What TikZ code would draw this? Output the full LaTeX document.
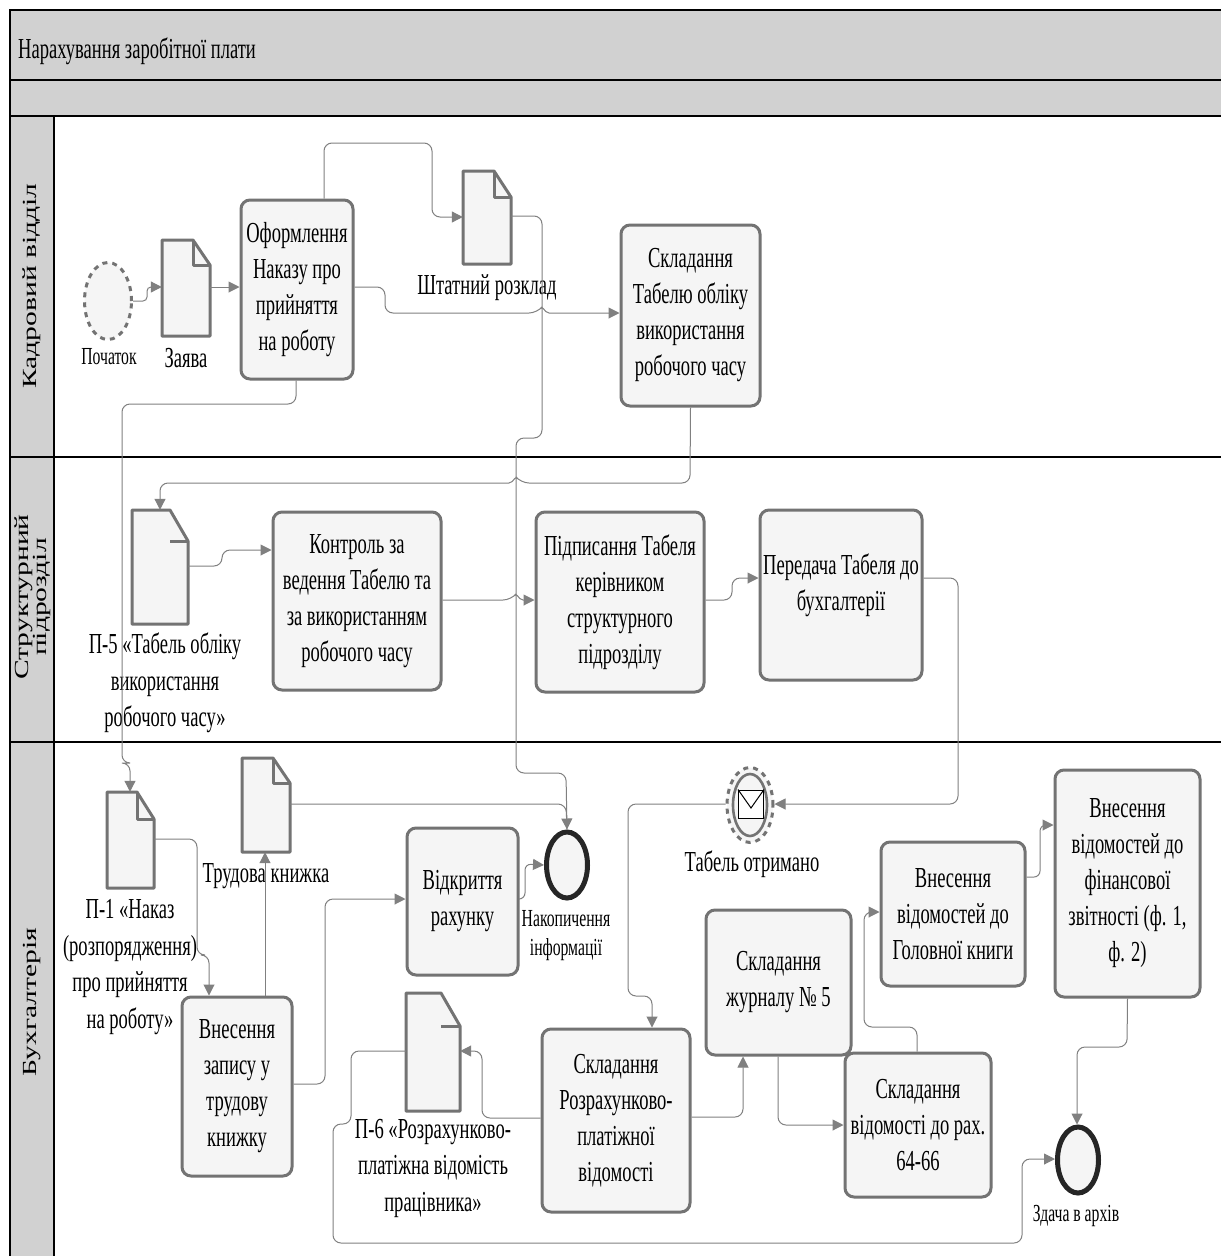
\documentclass[tikz,border=0pt]{standalone}
\usepackage{fontspec}
\setmainfont[FakeStretch=0.64]{Liberation Serif}
\newfontfamily\lanefont[FakeStretch=1.48]{Liberation Serif}
\usetikzlibrary{arrows.meta,shapes.geometric}
\definecolor{hdr}{gray}{0.82}
\definecolor{edge}{gray}{0.45}
\definecolor{conn}{gray}{0.5}
\definecolor{paper}{gray}{0.96}
\tikzset{
  x=1pt,y=-1pt,
  taskbox/.style={draw=edge,fill=paper,line width=3pt,rounded corners=9pt,inner sep=0pt,align=center,font=\fontsize{29}{36}\selectfont},
  docbody/.style={draw=edge,fill=paper,line width=3pt,line join=round},
  docfold/.style={draw=edge,line width=3pt,line join=round},
  docframe/.style={inner sep=0pt,draw=none},
  lab/.style={inner sep=0pt,align=center,font=\fontsize{29}{36.5}\selectfont},
  smalllab/.style={inner sep=0pt,align=center,font=\fontsize{24.5}{29}\selectfont},
  connector/.style={draw=conn,line width=1pt,rounded corners=8pt},
  arrowed/.style={connector,-{Triangle[length=11pt,width=11pt,fill=conn]}},
  ellipse shape/.style={shape=ellipse,inner sep=0pt},
  startev/.style={ellipse shape,draw=edge,fill=paper,line width=3pt,dash pattern=on 5pt off 5pt},
  endev/.style={ellipse shape,draw=black!85,fill=paper,line width=5pt},
  lanehdr/.style={draw=black,fill=hdr,line width=1.6pt},
  lanetxt/.style={inner sep=0pt,align=center,rotate=90,font=\lanefont\fontsize{20}{16}\selectfont},
}
\newcommand{\tasknode}[6]{\node[taskbox,minimum width={(#4-#2)*1pt},minimum height={(#5-#3)*1pt}] (#1) at ({(#2+#4)/2},{(#3+#5)/2}) {#6};}
\newcommand{\docshape}[7]{%
  \draw[docbody] (#2,#3) -- (#6,#3) -- (#4,#7) -- (#4,#5) -- (#2,#5) -- cycle;
  \node[docframe,minimum width={(#4-#2)*1pt},minimum height={(#5-#3)*1pt}] (#1) at ({(#2+#4)/2},{(#3+#5)/2}) {};}
\newcommand{\docnode}[7]{%
  \docshape{#1}{#2}{#3}{#4}{#5}{#6}{#7}
  \draw[docfold] (#6,#3) -- (#6,#7) -- (#4,#7);}
\newcommand{\docnodetick}[7]{%
  \docshape{#1}{#2}{#3}{#4}{#5}{#6}{#7}
  \draw[docfold] (#6,#7) -- (#4,#7);}
\begin{document}
\begin{tikzpicture}
\useasboundingbox (0,0) rectangle (1221,1256);
\fill[white] (0,0) rectangle (1221,1256);
% header bands
\draw[lanehdr] (10,10) rectangle (1223,80);
\draw[lanehdr] (10,80) rectangle (1223,116);
\node[anchor=west,inner sep=0pt,font=\fontsize{29}{32}\selectfont] (title) at (18,51) {Нарахування заробітної плати};
% lanes
\draw[lanehdr] (10,116) rectangle (54,457);
\draw[lanehdr] (10,457) rectangle (54,742);
\draw[lanehdr] (10,742) rectangle (54,1258);
\draw[black,line width=1.6pt] (54,457) -- (1223,457);
\draw[black,line width=1.6pt] (54,742) -- (1223,742);
\node[lanetxt] (laneA) at (32,286) {Кадровий відділ};
\node[lanetxt] (laneB) at (33,597) {Структурний\\підрозділ};
\node[lanetxt] (laneC) at (32,1002) {Бухгалтерія};
% first lane
\node[startev,minimum width=47pt,minimum height=77pt] (start) at (108,301) {};
\node[smalllab] (startL) at (109,357) {Початок};
\docnode{zayava}{162}{240}{210}{336}{193}{265}
\node[lab] (zayavaL) at (186,358) {Заява};
\tasknode{order}{241}{200}{353}{379}{Оформлення\\Наказу про\\прийняття\\на роботу}
\docnode{shtat}{463}{171}{511}{264}{494}{197}
\node[lab] (shtatL) at (487,288) {Штатний розклад};
\tasknode{tabel}{621}{225}{760}{406}{Складання\\Табелю обліку\\використання\\робочого часу}
% second lane
\docnodetick{pfive}{132}{510}{188}{624}{170}{541}
\node[lab] (pfiveL) at (165,683) {П-5 «Табель обліку\\використання\\робочого часу»};
\tasknode{control}{273}{512}{441}{690}{Контроль за\\ведення Табелю та\\за використанням\\робочого часу}
\tasknode{sign}{536}{512}{704}{692}{Підписання Табеля\\керівником\\структурного\\підрозділу}
\tasknode{send}{760}{510}{922}{680}{Передача Табеля до\\бухгалтерії\\[-10pt]\mbox{}}
% third lane
\docnode{pone}{107}{792}{154}{888}{137}{819}
\node[lab] (poneL) at (130,967) {П-1 «Наказ\\(розпорядження)\\про прийняття\\на роботу»};
\docnode{book}{242}{758}{290}{852}{273}{783}
\node[lab] (bookL) at (266,876) {Трудова книжка};
\tasknode{entry}{182}{997}{292}{1176}{Внесення\\запису у\\трудову\\книжку}
\tasknode{account}{407}{828}{518}{975}{Відкриття\\рахунку}
\node[endev,minimum width=41pt,minimum height=66pt] (endA) at (567,865) {};
\node[smalllab] (endAL) at (566,936) {Накопичення\\інформації};
\docnodetick{psix}{406}{993}{460}{1111}{441}{1026}
\node[lab] (psixL) at (433,1168) {П-6 «Розрахунково-\\платіжна відомість\\працівника»};
\tasknode{payroll}{542}{1029}{690}{1212}{Складання\\Розрахунково-\\платіжної\\відомості}
% message event
\node[startev,minimum width=46pt,minimum height=75pt] (msgO) at (750,805) {};
\node[ellipse shape,draw=edge,line width=2.6pt,fill=paper,minimum width=34pt,minimum height=62pt] (msg) at (750,805) {};
\node[draw=black,fill=white,line width=1pt,minimum width=25pt,minimum height=28pt,inner sep=0pt] (env) at (751,804) {};
\draw[black,line width=1pt] (env.north west) -- (751,808) -- (env.north east);
\node[lab] (msgL) at (752,864) {Табель отримано};
\tasknode{journal}{706}{910}{851}{1055}{Складання\\журналу № 5}
\tasknode{ledger}{881}{842}{1025}{986}{Внесення\\відомостей до\\Головної книги}
\tasknode{fin}{1055}{770}{1200}{997}{Внесення\\відомостей до\\фінансової\\звітності (ф. 1,\\ф. 2)}
\tasknode{acc}{845}{1053}{991}{1197}{Складання\\відомості до рах.\\64-66}
\node[endev,minimum width=41pt,minimum height=66pt] (endB) at (1078,1160) {};
\node[smalllab] (endBL) at (1076,1216) {Здача в архів};
% connectors: first lane
\draw[arrowed,rounded corners=4pt] (start.east) -- (147,301) -- (147,287) -- (zayava.west |- 0,287);
\draw[arrowed] (zayava.east |- 0,287) -- (order.west |- 0,287);
\draw[arrowed] (order.north -| 324,0) -- (324,143) -- (432,143) -- (432,217) -- (shtat.west |- 0,217);
\draw[arrowed] (order.east |- 0,287) -- (385,287) -- (385,313) -- (537,313) [rounded corners=2pt] -- (542,307) -- (547,313) [rounded corners=8pt] -- (tabel.west |- 0,313);
\draw[arrowed] (shtat.east |- 0,216) -- (542,216) -- (542,438) -- (516,438) -- (516,773) -- (566,773) -- (endA.north);
\draw[arrowed] (order.south -| 296,0) -- (296,404) -- (122,404) -- (122,763) -- (130,763) -- (pone.north -| 130,0);
\draw[arrowed] (tabel.south) -- (690,483) -- (521,483) [rounded corners=2pt] -- (516,477) -- (511,483) [rounded corners=8pt] -- (160,483) -- (pfive.north -| 160,0);
% second lane
\draw[arrowed] (pfive.east |- 0,566) -- (222,566) -- (222,550) -- (control.west |- 0,550);
\draw[arrowed] (control.east |- 0,600) -- (511,600) [rounded corners=2pt] -- (516,594) -- (521,600) [rounded corners=8pt] -- (sign.west |- 0,600);
\draw[arrowed] (sign.east |- 0,600) -- (732,600) -- (732,578) -- (send.west |- 0,578);
\draw[arrowed] (send.east |- 0,578) -- (958,578) -- (958,804) -- (msgO.east |- 0,804);
% third lane
\draw[arrowed] (pone.east |- 0,839) -- (197,839) -- (197,955) -- (209,955) -- (entry.north -| 209,0);
\draw[arrowed] (entry.north -| 265,0) -- (book.south -| 265,0);
\draw[arrowed] (entry.east |- 0,1084) -- (325,1084) -- (325,899) -- (account.west |- 0,899);
\draw[connector] (book.east |- 0,804) -- (566,804) -- (endA.north);
\draw[arrowed,rounded corners=6pt] (account.east |- 0,899) -- (525,899) -- (525,864) -- (endA.west);
\draw[arrowed] (msgO.west |- 0,804) -- (628,804) -- (628,996) -- (652,996) -- (payroll.north -| 652,0);
\draw[arrowed] (payroll.west |- 0,1118) -- (482,1118) -- (482,1051) -- (psix.east |- 0,1051);
\draw[arrowed] (payroll.east |- 0,1117) -- (743,1117) -- (journal.south -| 743,0);
\draw[arrowed] (journal.south -| 778,0) -- (778,1125) -- (acc.west |- 0,1125);
\draw[arrowed] (acc.north -| 917,0) -- (917,1027) -- (864,1027) -- (864,912) -- (ledger.west |- 0,912);
\draw[arrowed,rounded corners=6pt] (ledger.east |- 0,877) -- (1040,877) -- (1040,825) -- (fin.west |- 0,825);
\draw[arrowed] (fin.south) -- (1127,1047) -- (1077,1047) -- (endB.north -| 1077,0);
\draw[arrowed] (psix.west |- 0,1051) -- (351,1051) -- (351,1124) -- (333,1124) -- (333,1243) -- (1022,1243) -- (1022,1159) -- (endB.west |- 0,1159);
\end{tikzpicture}
\end{document}
